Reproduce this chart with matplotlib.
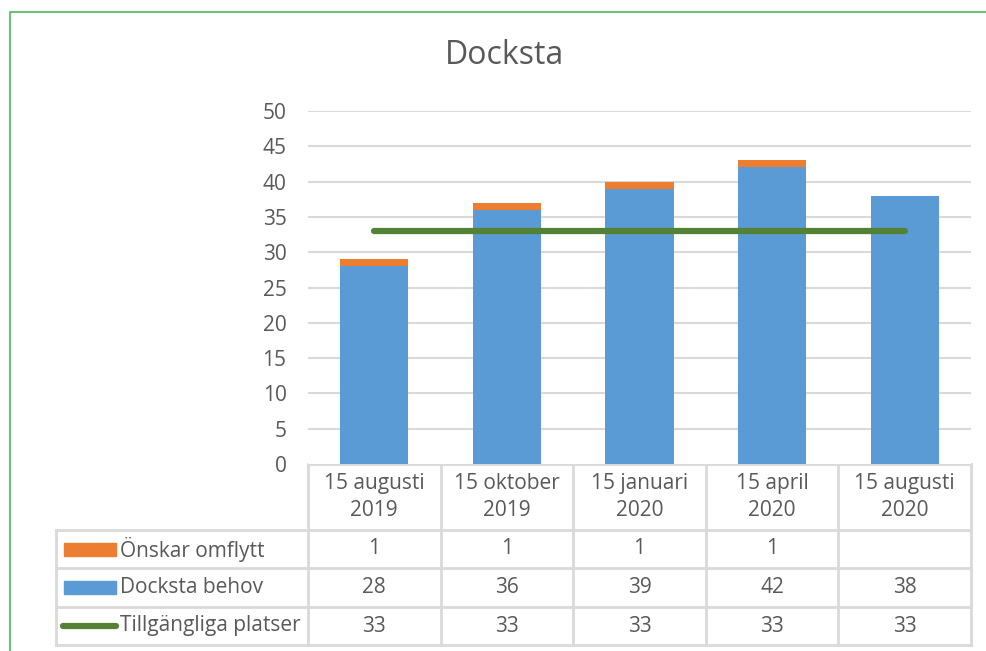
import matplotlib.pyplot as plt
from matplotlib.patches import Rectangle
from matplotlib.lines import Line2D

plt.rcParams['font.family'] = ['Open Sans', 'DejaVu Sans']

# data
kategorier = ['15 augusti\n2019', '15 oktober\n2019', '15 januari\n2020', '15 april\n2020', '15 augusti\n2020']
behov = [28, 36, 39, 42, 38]
omflytt = [1, 1, 1, 1, None]
platser = [33, 33, 33, 33, 33]
serier = ['Önskar omflytt', 'Docksta behov', 'Tillgängliga platser']

blue = '#5B9BD5'
orange = '#ED7D31'
green = '#548235'
grid_c = '#D9D9D9'
txt_c = '#595959'
fs = 15

W, H = 986, 651
fig = plt.figure(figsize=(W / 100, H / 100), dpi=100)

# overlay in pixel coordinates for table and frame
ov = fig.add_axes([0, 0, 1, 1])
ov.set_xlim(0, W)
ov.set_ylim(H, 0)
ov.axis('off')

x0, x1 = 308, 971
y_top, y_bot = 111, 464
ax = fig.add_axes([x0 / W, (H - y_bot) / H, (x1 - x0) / W, (y_bot - y_top) / H])
ax.set_xlim(-0.5, len(kategorier) - 0.5)
ax.set_ylim(0, 50)
ax.set_yticks(range(0, 51, 5))
ax.set_xticks([])
for s in ax.spines.values():
    s.set_visible(False)
ax.tick_params(axis='y', length=0, pad=15.5, labelsize=fs, labelcolor=txt_c)
for v in range(5, 51, 5):
    ax.axhline(v, color=grid_c, lw=1.5, zorder=0)

xs = list(range(len(kategorier)))
ax.bar(xs, behov, width=0.515, color=blue, zorder=2)
om = [v if v is not None else 0 for v in omflytt]
ax.bar(xs, om, width=0.515, bottom=behov, color=orange, zorder=2)
ax.plot(xs, platser, color=green, lw=4.5, solid_capstyle='round', zorder=3)

fig.text(505 / W, 1 - 55 / H, 'Docksta', ha='center', va='center', fontsize=23, color=txt_c)

# table
ncol = len(kategorier)
colw = (x1 - x0) / ncol
lbl_x = 56
rows_y = [464, 530, 568, 607, 645]
lw_t = 2
ov.plot([x0, x1], [rows_y[0], rows_y[0]], color=grid_c, lw=lw_t)
for yy in rows_y[1:]:
    ov.plot([lbl_x, x1], [yy, yy], color=grid_c, lw=lw_t)
for i in range(ncol + 1):
    xx = x0 + i * colw
    ov.plot([xx, xx], [rows_y[0], rows_y[-1]], color=grid_c, lw=lw_t)
ov.plot([lbl_x, lbl_x], [rows_y[1], rows_y[-1]], color=grid_c, lw=lw_t)

for i, k in enumerate(kategorier):
    cx = x0 + (i + 0.5) * colw
    ov.text(cx, (rows_y[0] + rows_y[1]) / 2, k, ha='center', va='center',
            fontsize=fs, color=txt_c, linespacing=1.4)

vals = [omflytt, behov, platser]
for r, (navn, rad) in enumerate(zip(serier, vals)):
    cy = (rows_y[r + 1] + rows_y[r + 2]) / 2
    ov.text(120, cy, navn, ha='left', va='center', fontsize=fs, color=txt_c)
    for i, v in enumerate(rad):
        if v is None:
            continue
        ov.text(x0 + (i + 0.5) * colw, cy, str(v), ha='center', va='center',
                fontsize=fs, color=txt_c)

# legend keys
ov.add_patch(Rectangle((64, 543), 52, 13, color=orange))
ov.add_patch(Rectangle((64, 581), 52, 13, color=blue))
ov.add_line(Line2D([63, 116], [625.5, 625.5], color=green, lw=4.5, solid_capstyle='round'))

# chart frame
ov.plot([10, 10, W + 5], [H + 5, 12, 12], color='#6CC07A', lw=1.5)

fig.savefig('out.png', dpi=100)
